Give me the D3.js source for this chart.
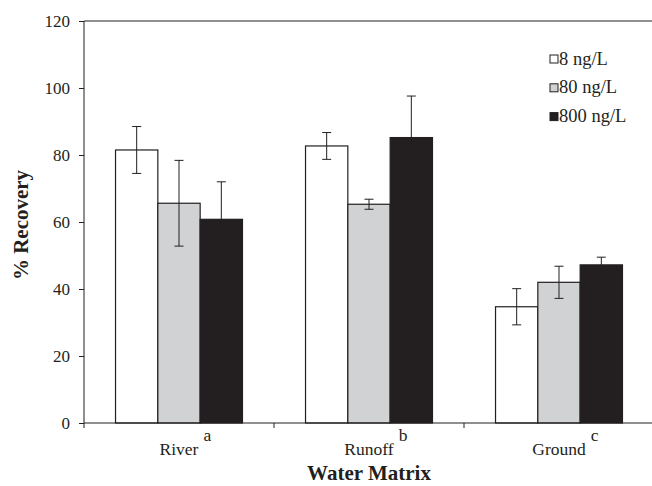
<!DOCTYPE html>
<html>
<head>
<meta charset="utf-8">
<script src="https://cdn.jsdelivr.net/npm/d3@7"></script>
<style>
  body { margin: 0; background: #fff; }
  svg text { font-family: "Liberation Serif", "Times New Roman", Times, "DejaVu Serif", serif; fill: #231f20; }
</style>
</head>
<body>
<div id="chart"></div>
<script>
let w = 652;
let h = 486;
let margin = {top: 21, right: -2, bottom: 63, left: 84};
let serif = "'Liberation Serif', 'Times New Roman', Times, 'DejaVu Serif', serif";

// data
let categories = ["River", "Runoff", "Ground"];
let letters = ["a", "b", "c"];
let series = ["8 ng/L", "80 ng/L", "800 ng/L"];
let values8 = [81.5, 82.7, 34.7];
let values80 = [65.6, 65.3, 42.0];
let values800 = [60.8, 85.2, 47.2];
let err8 = [7.0, 4.0, 5.4];
let err80 = [12.8, 1.5, 4.8];
let err800 = [11.2, 12.4, 2.3];
let yTicks = [0, 20, 40, 60, 80, 100, 120];

let colors = ["#ffffff", "#d1d2d4", "#231f20"];
let ink = "#231f20";

let rows = [];
categories.forEach((c, i) => {
  rows.push({cat: c, s: series[0], v: values8[i], e: err8[i]});
  rows.push({cat: c, s: series[1], v: values80[i], e: err80[i]});
  rows.push({cat: c, s: series[2], v: values800[i], e: err800[i]});
});

let viz = d3.select("#chart")
  .append("svg")
  .attr("width", w)
  .attr("height", h)
  .style("font-family", serif);

let x0 = d3.scaleBand().domain(categories)
  .range([margin.left, w - margin.right])
  .paddingInner(0).paddingOuter(0);
let x1 = d3.scaleBand().domain(series)
  .range([0, x0.bandwidth()])
  .paddingOuter(0.745).paddingInner(0);
let yScale = d3.scaleLinear().domain([0, 120]).range([h - margin.bottom, margin.top]);
let color = d3.scaleOrdinal().domain(series).range(colors);

// top frame line
viz.append("line")
  .attr("x1", margin.left).attr("x2", w - margin.right)
  .attr("y1", yScale(120)).attr("y2", yScale(120))
  .attr("stroke", ink).attr("stroke-width", 1);

// bars
viz.selectAll(".bar").data(rows).enter()
  .append("rect")
  .attr("class", "bar")
  .attr("x", d => x0(d.cat) + x1(d.s))
  .attr("y", d => yScale(d.v))
  .attr("width", x1.bandwidth())
  .attr("height", d => yScale(0) - yScale(d.v))
  .attr("fill", d => color(d.s))
  .attr("stroke", ink)
  .attr("stroke-width", 1.2);

// error bars
let errs = viz.selectAll(".err").data(rows).enter()
  .append("g").attr("class", "err")
  .attr("stroke", ink).attr("stroke-width", 1);
let cx = d => x0(d.cat) + x1(d.s) + x1.bandwidth() / 2;
errs.append("line")
  .attr("x1", cx).attr("x2", cx)
  .attr("y1", d => yScale(d.v - d.e)).attr("y2", d => yScale(d.v + d.e));
errs.append("line")
  .attr("x1", d => cx(d) - 4.5).attr("x2", d => cx(d) + 4.5)
  .attr("y1", d => yScale(d.v + d.e)).attr("y2", d => yScale(d.v + d.e));
errs.append("line")
  .attr("x1", d => cx(d) - 4.5).attr("x2", d => cx(d) + 4.5)
  .attr("y1", d => yScale(d.v - d.e)).attr("y2", d => yScale(d.v - d.e));

// y axis
let yAxis = d3.axisLeft(yScale).tickValues(yTicks).tickSize(5).tickPadding(9);
let yAxisGroup = viz.append("g")
  .attr("transform", "translate(" + margin.left + ",0)")
  .call(yAxis)
  .attr("font-family", null);
yAxisGroup.select(".domain").attr("stroke", ink).attr("d", "M0," + yScale(120) + "V" + (yScale(0) + 5));
yAxisGroup.selectAll(".tick line").attr("stroke", ink);
yAxisGroup.selectAll("text")
  .style("font-family", serif)
  .style("font-size", "17px")
  .attr("fill", ink);

// x axis: line with ticks at band edges
viz.append("line")
  .attr("x1", margin.left).attr("x2", w - margin.right)
  .attr("y1", yScale(0)).attr("y2", yScale(0))
  .attr("stroke", ink).attr("stroke-width", 1);
viz.selectAll(".xtick").data(categories.slice(1)).enter()
  .append("line")
  .attr("class", "xtick")
  .attr("x1", d => x0(d)).attr("x2", d => x0(d))
  .attr("y1", yScale(0)).attr("y2", yScale(0) + 5)
  .attr("stroke", ink);

// category labels with superscript letters
let labels = viz.selectAll(".catlabel").data(categories).enter()
  .append("text")
  .attr("class", "catlabel")
  .attr("x", d => x0(d) + x0.bandwidth() / 2)
  .attr("y", 455)
  .attr("text-anchor", "middle")
  .style("font-size", "17.5px")
  .text(d => d);
labels.each(function(d, i){
  let len = this.getComputedTextLength();
  viz.append("text")
    .attr("x", x0(d) + x0.bandwidth() / 2 + len / 2 + 5)
    .attr("y", 441)
    .style("font-size", "17.5px")
    .text(letters[i]);
});

// axis titles
viz.append("text")
  .attr("x", (margin.left + 654) / 2)
  .attr("y", 480)
  .attr("text-anchor", "middle")
  .style("font-size", "21px")
  .style("font-weight", "bold")
  .text("Water Matrix");
viz.append("text")
  .attr("transform", "translate(28," + ((yScale(0) + yScale(120)) / 2 + 3) + ") rotate(-90)")
  .attr("text-anchor", "middle")
  .style("font-size", "21px")
  .style("font-weight", "bold")
  .text("% Recovery");

// legend
let legend = viz.selectAll(".legend").data(series).enter()
  .append("g").attr("class", "legend")
  .attr("transform", (d, i) => "translate(550," + (59 + i * 28.8) + ")");
legend.append("rect")
  .attr("x", 0).attr("y", -4)
  .attr("width", 8).attr("height", 8)
  .attr("fill", d => color(d))
  .attr("stroke", ink).attr("stroke-width", 1);
legend.append("text")
  .attr("x", 9).attr("y", 5.5)
  .style("font-size", "18.5px")
  .text(d => d);
</script>
</body>
</html>
